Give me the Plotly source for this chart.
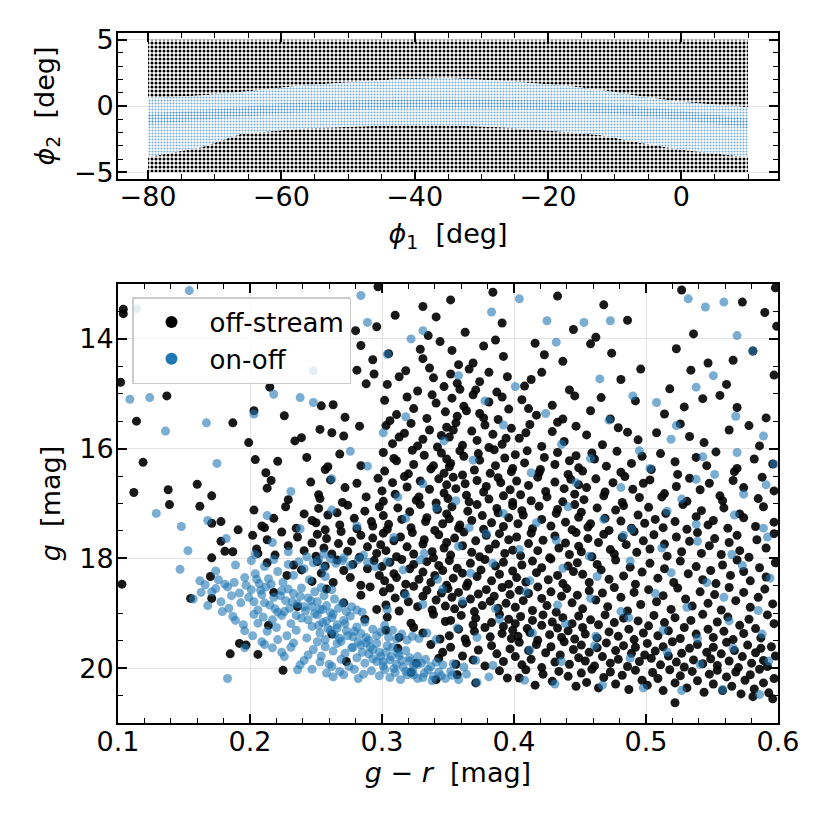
import plotly.graph_objects as go

# ---------------- top panel: sky map (phi1, phi2) ----------------
# edges of the stream mask; outside it = off-stream field
band_phi1 = [-80, -72, -66, -57, -43, -35, -27, -17, -12, -7, 0, 10]
band_upper = [0.6, 0.8, 1.05, 1.55, 2.0, 2.1, 1.9, 1.5, 1.2, 0.8, 0.3, -0.1]
band_lower = [-3.85, -3.1, -2.1, -1.7, -1.45, -1.45, -1.6, -1.95, -2.2, -2.7, -3.3, -3.85]
field_phi2 = [-5, 5]

# denser stream track inside the band
track_phi1 = [-80, -70, -60, -50, -40, -30, -20, -10, 0, 10]
track_upper = [-0.6, -0.25, 0.2, 0.4, 0.5, 0.5, 0.4, 0.15, -0.35, -0.95]
track_lower = [-1.4, -1.0, -0.55, -0.3, -0.2, -0.2, -0.3, -0.6, -1.05, -1.65]

# ---------------- bottom panel: CMD (g-r, g) ----------------
off_stream_stars = [
    # g 13-14
    (0.104, 13.46), (0.297, 13.05), (0.331, 13.41), (0.384, 13.15), (0.352, 13.29),
    (0.433, 13.22), (0.468, 13.38), (0.527, 13.11), (0.573, 13.33), (0.598, 13.07),
    (0.104, 13.54), (0.280, 13.85), (0.296, 13.78), (0.310, 13.57), (0.335, 13.94),
    (0.341, 13.60), (0.363, 13.88), (0.391, 13.71), (0.445, 13.83), (0.486, 13.66),
    (0.462, 13.97), (0.536, 13.91), (0.590, 13.52), (0.599, 13.77),
    # g 14-15
    (0.284, 14.12), (0.293, 14.38), (0.305, 14.27), (0.331, 14.36), (0.344, 14.05),
    (0.329, 14.19), (0.353, 14.21), (0.369, 14.44), (0.377, 14.13), (0.392, 14.32),
    (0.358, 14.47), (0.386, 14.02), (0.416, 14.08), (0.437, 14.41), (0.423, 14.29),
    (0.474, 14.26), (0.458, 14.09), (0.523, 14.18), (0.547, 14.44), (0.566, 14.39),
    (0.581, 14.22),
    (0.102, 14.79), (0.215, 14.88), (0.281, 14.57), (0.288, 14.82), (0.294, 14.64),
    (0.304, 14.83), (0.318, 14.58), (0.327, 14.95), (0.339, 14.71), (0.347, 14.87),
    (0.313, 14.69), (0.336, 14.53), (0.352, 14.64), (0.359, 14.92), (0.366, 14.55),
    (0.374, 14.78), (0.387, 14.97), (0.395, 14.69), (0.381, 14.61), (0.357, 14.81),
    (0.371, 14.93), (0.408, 14.86), (0.421, 14.61), (0.442, 14.93), (0.413, 14.74),
    (0.481, 14.74), (0.496, 14.55), (0.534, 14.57), (0.518, 14.91), (0.561, 14.83),
    (0.597, 14.66),
    # g 15-16
    (0.137, 15.04), (0.226, 15.40), (0.203, 15.31), (0.254, 15.22), (0.263, 15.20),
    (0.272, 15.43), (0.302, 15.12), (0.311, 15.38), (0.319, 15.06), (0.324, 15.27),
    (0.334, 15.45), (0.341, 15.17), (0.348, 15.33), (0.306, 15.49), (0.338, 15.02),
    (0.353, 15.08), (0.357, 15.41), (0.362, 15.23), (0.369, 15.02), (0.374, 15.36),
    (0.381, 15.15), (0.388, 15.47), (0.396, 15.28), (0.364, 15.31), (0.391, 15.06),
    (0.377, 15.44), (0.406, 15.11), (0.417, 15.39), (0.429, 15.21), (0.446, 15.04),
    (0.411, 15.27), (0.437, 15.46), (0.458, 15.31), (0.473, 15.46), (0.492, 15.13),
    (0.466, 15.07), (0.514, 15.37), (0.543, 15.09), (0.529, 15.24), (0.569, 15.25),
    (0.591, 15.44), (0.556, 15.03),
    (0.114, 15.50), (0.187, 15.53), (0.199, 15.89), (0.234, 15.86), (0.239, 15.80),
    (0.253, 15.65), (0.262, 15.71), (0.271, 15.77), (0.283, 15.59), (0.303, 15.58),
    (0.308, 15.91), (0.317, 15.72), (0.322, 15.54), (0.331, 15.83), (0.336, 15.66),
    (0.342, 15.97), (0.349, 15.61), (0.313, 15.79), (0.327, 15.95), (0.345, 15.76),
    (0.351, 15.79), (0.356, 15.53), (0.361, 15.94), (0.368, 15.68), (0.372, 15.85),
    (0.378, 15.57), (0.384, 15.74), (0.391, 15.92), (0.398, 15.63), (0.354, 15.66),
    (0.381, 15.98), (0.394, 15.81), (0.404, 15.81), (0.412, 15.56), (0.421, 15.96),
    (0.429, 15.69), (0.438, 15.87), (0.447, 15.59), (0.409, 15.71), (0.433, 15.52),
    (0.455, 15.75), (0.467, 15.93), (0.479, 15.62), (0.494, 15.84), (0.486, 15.70),
    (0.508, 15.71), (0.526, 15.55), (0.544, 15.89), (0.533, 15.78), (0.563, 15.66),
    (0.586, 15.95), (0.578, 15.58),
    # g 16-17
    (0.119, 16.25), (0.204, 16.20), (0.212, 16.44), (0.221, 16.23), (0.243, 16.16),
    (0.257, 16.38), (0.259, 16.33), (0.268, 16.10), (0.284, 16.31), (0.301, 16.07),
    (0.302, 16.41), (0.309, 16.18), (0.311, 16.22), (0.320, 16.46), (0.323, 16.03),
    (0.324, 16.29), (0.332, 16.12), (0.337, 16.37), (0.339, 16.31), (0.345, 16.08),
    (0.347, 16.45), (0.349, 16.19), (0.351, 16.33), (0.352, 16.27), (0.359, 16.04),
    (0.361, 16.48), (0.362, 16.14), (0.370, 16.39), (0.373, 16.09), (0.374, 16.21),
    (0.382, 16.45), (0.385, 16.02), (0.386, 16.31), (0.393, 16.17), (0.398, 16.42),
    (0.399, 16.36), (0.401, 16.11), (0.408, 16.26), (0.410, 16.04), (0.419, 16.44),
    (0.420, 16.38), (0.423, 16.16), (0.431, 16.29), (0.433, 16.07), (0.441, 16.47),
    (0.442, 16.22), (0.447, 16.13), (0.449, 16.35), (0.452, 16.41), (0.459, 16.08),
    (0.461, 16.19), (0.470, 16.32), (0.478, 16.05), (0.481, 16.43), (0.489, 16.27),
    (0.497, 16.14), (0.504, 16.38), (0.511, 16.09), (0.522, 16.24), (0.524, 16.47),
    (0.538, 16.16), (0.546, 16.31), (0.553, 16.06), (0.567, 16.42), (0.569, 16.36),
    (0.582, 16.19), (0.596, 16.28),
    (0.112, 16.80), (0.138, 16.75), (0.160, 16.65), (0.171, 16.86), (0.213, 16.72),
    (0.216, 16.58), (0.229, 16.93), (0.246, 16.61), (0.252, 16.84), (0.253, 16.91),
    (0.261, 16.57), (0.270, 16.98), (0.272, 16.71), (0.281, 16.63), (0.288, 16.88),
    (0.297, 16.54), (0.300, 16.77), (0.301, 16.96), (0.308, 16.62), (0.310, 16.83),
    (0.317, 16.51), (0.319, 16.70), (0.326, 16.94), (0.328, 16.88), (0.329, 16.59),
    (0.336, 16.74), (0.341, 16.99), (0.343, 16.55), (0.347, 16.81), (0.349, 16.66),
    (0.350, 16.91), (0.354, 16.52), (0.356, 16.73), (0.363, 16.64), (0.364, 16.85),
    (0.366, 16.97), (0.372, 16.58), (0.377, 16.79), (0.379, 16.69), (0.381, 16.92),
    (0.388, 16.53), (0.390, 16.62), (0.392, 16.86), (0.397, 16.75), (0.399, 16.98),
    (0.402, 16.59), (0.405, 16.84), (0.411, 16.67), (0.413, 16.95), (0.418, 16.52),
    (0.424, 16.78), (0.425, 16.88), (0.431, 16.61), (0.437, 16.97), (0.438, 16.73),
    (0.443, 16.56), (0.446, 16.83), (0.449, 16.66), (0.453, 16.93), (0.455, 16.71),
    (0.462, 16.55), (0.468, 16.86), (0.469, 16.79), (0.475, 16.62), (0.482, 16.98),
    (0.484, 16.51), (0.490, 16.74), (0.495, 16.89), (0.498, 16.63), (0.503, 16.57),
    (0.512, 16.88), (0.514, 16.82), (0.523, 16.69), (0.531, 16.96), (0.533, 16.54),
    (0.541, 16.75), (0.548, 16.63), (0.556, 16.86), (0.558, 16.95), (0.566, 16.58),
    (0.574, 16.71), (0.585, 16.91), (0.588, 16.52), (0.597, 16.77),
    # g 17-18
    (0.139, 17.02), (0.162, 17.05), (0.171, 17.36), (0.178, 17.33), (0.191, 17.48),
    (0.203, 17.12), (0.209, 17.41), (0.211, 17.44), (0.218, 17.27), (0.227, 17.06),
    (0.235, 17.45), (0.241, 17.19), (0.247, 17.31), (0.250, 17.35), (0.252, 17.09),
    (0.257, 17.48), (0.259, 17.21), (0.266, 17.17), (0.268, 17.39), (0.274, 17.03),
    (0.279, 17.27), (0.281, 17.46), (0.287, 17.14), (0.292, 17.33), (0.293, 17.41),
    (0.298, 17.06), (0.301, 17.22), (0.304, 17.47), (0.305, 17.38), (0.312, 17.08),
    (0.315, 17.29), (0.321, 17.15), (0.322, 17.44), (0.329, 17.02), (0.333, 17.33),
    (0.334, 17.26), (0.340, 17.49), (0.342, 17.11), (0.346, 17.37), (0.349, 17.19),
    (0.351, 17.28), (0.353, 17.06), (0.358, 17.45), (0.359, 17.39), (0.365, 17.14),
    (0.368, 17.31), (0.372, 17.02), (0.376, 17.22), (0.377, 17.47), (0.383, 17.35),
    (0.387, 17.09), (0.388, 17.17), (0.392, 17.42), (0.396, 17.26), (0.399, 17.04),
    (0.403, 17.37), (0.406, 17.13), (0.407, 17.21), (0.414, 17.46), (0.419, 17.05),
    (0.421, 17.29), (0.428, 17.41), (0.432, 17.18), (0.433, 17.11), (0.439, 17.34),
    (0.444, 17.48), (0.446, 17.02), (0.449, 17.25), (0.451, 17.16), (0.456, 17.43),
    (0.458, 17.37), (0.463, 17.08), (0.469, 17.27), (0.472, 17.49), (0.477, 17.12),
    (0.481, 17.32), (0.483, 17.04), (0.489, 17.45), (0.494, 17.21), (0.499, 17.36),
    (0.502, 17.07), (0.507, 17.29), (0.513, 17.44), (0.515, 17.18), (0.522, 17.33),
    (0.528, 17.02), (0.531, 17.47), (0.538, 17.24), (0.542, 17.13), (0.547, 17.39),
    (0.551, 17.31), (0.559, 17.08), (0.562, 17.45), (0.571, 17.19), (0.574, 17.26),
    (0.583, 17.42), (0.589, 17.06), (0.597, 17.34),
    (0.171, 17.99), (0.178, 17.69), (0.181, 17.87), (0.187, 17.88), (0.202, 17.58),
    (0.205, 17.83), (0.206, 17.91), (0.213, 17.66), (0.219, 17.94), (0.224, 17.52),
    (0.229, 17.77), (0.236, 17.61), (0.241, 17.86), (0.247, 17.72), (0.250, 17.96),
    (0.251, 17.56), (0.256, 17.81), (0.258, 17.64), (0.262, 17.92), (0.267, 17.73),
    (0.269, 17.51), (0.274, 17.87), (0.277, 17.69), (0.283, 17.98), (0.284, 17.58),
    (0.289, 17.79), (0.293, 17.63), (0.296, 17.91), (0.299, 17.75), (0.301, 17.54),
    (0.303, 17.86), (0.309, 17.68), (0.311, 17.97), (0.314, 17.61), (0.319, 17.79),
    (0.323, 17.53), (0.324, 17.92), (0.331, 17.74), (0.332, 17.66), (0.338, 17.88),
    (0.339, 17.99), (0.343, 17.57), (0.347, 17.81), (0.349, 17.71), (0.352, 17.94),
    (0.355, 17.63), (0.361, 17.77), (0.362, 17.52), (0.368, 17.89), (0.371, 17.68),
    (0.374, 17.97), (0.379, 17.58), (0.381, 17.83), (0.386, 17.74), (0.389, 17.55),
    (0.393, 17.91), (0.396, 17.66), (0.399, 17.85), (0.402, 17.61), (0.405, 17.95),
    (0.411, 17.73), (0.413, 17.54), (0.418, 17.86), (0.422, 17.67), (0.427, 17.99),
    (0.431, 17.59), (0.434, 17.81), (0.439, 17.72), (0.442, 17.93), (0.447, 17.53),
    (0.449, 17.78), (0.451, 17.88), (0.456, 17.64), (0.459, 17.97), (0.464, 17.71),
    (0.468, 17.56), (0.473, 17.84), (0.476, 17.92), (0.482, 17.62), (0.485, 17.75),
    (0.491, 17.51), (0.493, 17.89), (0.498, 17.68), (0.503, 17.83), (0.506, 17.57),
    (0.514, 17.74), (0.516, 17.96), (0.523, 17.61), (0.527, 17.88), (0.533, 17.69),
    (0.539, 17.53), (0.542, 17.91), (0.548, 17.77), (0.552, 17.64), (0.557, 17.93),
    (0.563, 17.71), (0.569, 17.58), (0.571, 17.86), (0.578, 17.98), (0.584, 17.66),
    (0.591, 17.81), (0.597, 17.55),
    # g 18-19
    (0.103, 18.47), (0.170, 18.33), (0.213, 18.08), (0.228, 18.31), (0.233, 18.12),
    (0.239, 18.21), (0.247, 18.42), (0.251, 18.06), (0.254, 18.27), (0.257, 18.14),
    (0.263, 18.44), (0.266, 18.03), (0.271, 18.22), (0.276, 18.35), (0.278, 18.11),
    (0.284, 18.49), (0.289, 18.19), (0.294, 18.04), (0.298, 18.31), (0.300, 18.15),
    (0.302, 18.41), (0.306, 18.07), (0.309, 18.28), (0.311, 18.35), (0.315, 18.02),
    (0.318, 18.47), (0.321, 18.19), (0.324, 18.11), (0.328, 18.38), (0.331, 18.25),
    (0.334, 18.06), (0.337, 18.44), (0.340, 18.31), (0.343, 18.13), (0.346, 18.22),
    (0.349, 18.49), (0.351, 18.04), (0.354, 18.36), (0.357, 18.18), (0.361, 18.27),
    (0.365, 18.45), (0.367, 18.09), (0.372, 18.33), (0.375, 18.21), (0.378, 18.02),
    (0.383, 18.41), (0.386, 18.14), (0.389, 18.29), (0.392, 18.07), (0.396, 18.47),
    (0.399, 18.23), (0.402, 18.35), (0.406, 18.12), (0.409, 18.43), (0.414, 18.05),
    (0.417, 18.26), (0.421, 18.17), (0.426, 18.39), (0.428, 18.01), (0.433, 18.31),
    (0.437, 18.46), (0.441, 18.14), (0.445, 18.24), (0.448, 18.08), (0.452, 18.29),
    (0.457, 18.44), (0.463, 18.11), (0.466, 18.21), (0.472, 18.38), (0.477, 18.03),
    (0.483, 18.32), (0.488, 18.16), (0.492, 18.47), (0.497, 18.25), (0.503, 18.09),
    (0.509, 18.36), (0.514, 18.19), (0.521, 18.44), (0.526, 18.05), (0.532, 18.28),
    (0.538, 18.15), (0.543, 18.39), (0.549, 18.22), (0.553, 18.46), (0.558, 18.12),
    (0.564, 18.31), (0.569, 18.03), (0.574, 18.24), (0.579, 18.41), (0.586, 18.17),
    (0.591, 18.34), (0.598, 18.08),
    (0.155, 18.73), (0.171, 18.73), (0.218, 18.62), (0.236, 18.88), (0.258, 18.56),
    (0.271, 18.81), (0.284, 18.67), (0.291, 18.52), (0.296, 18.93), (0.301, 18.61),
    (0.303, 18.85), (0.306, 18.54), (0.310, 18.72), (0.313, 18.96), (0.317, 18.64),
    (0.320, 18.79), (0.324, 18.51), (0.327, 18.88), (0.331, 18.69), (0.334, 18.58),
    (0.338, 18.94), (0.341, 18.76), (0.345, 18.63), (0.348, 18.87), (0.350, 18.55),
    (0.353, 18.71), (0.355, 18.92), (0.358, 18.62), (0.361, 18.83), (0.364, 18.51),
    (0.367, 18.74), (0.370, 18.97), (0.373, 18.65), (0.376, 18.86), (0.379, 18.57),
    (0.382, 18.78), (0.385, 18.69), (0.388, 18.91), (0.391, 18.53), (0.394, 18.82),
    (0.397, 18.66), (0.401, 18.89), (0.404, 18.58), (0.407, 18.77), (0.411, 18.64),
    (0.414, 18.95), (0.418, 18.52), (0.421, 18.73), (0.425, 18.86), (0.428, 18.61),
    (0.432, 18.98), (0.436, 18.69), (0.440, 18.55), (0.444, 18.81), (0.448, 18.67),
    (0.452, 18.92), (0.457, 18.59), (0.462, 18.76), (0.467, 18.63), (0.471, 18.88),
    (0.476, 18.53), (0.481, 18.71), (0.486, 18.96), (0.491, 18.62), (0.496, 18.84),
    (0.502, 18.57), (0.508, 18.79), (0.513, 18.68), (0.519, 18.93), (0.524, 18.54),
    (0.530, 18.74), (0.535, 18.87), (0.541, 18.61), (0.547, 18.82), (0.552, 18.66),
    (0.557, 18.94), (0.563, 18.53), (0.568, 18.77), (0.574, 18.62), (0.579, 18.89),
    (0.585, 18.71), (0.590, 18.56), (0.596, 18.83),
    # g 19-20
    (0.214, 19.22), (0.262, 19.38), (0.287, 19.11), (0.303, 19.31), (0.304, 19.07),
    (0.313, 19.44), (0.322, 19.18), (0.324, 19.26), (0.331, 19.36), (0.339, 19.02),
    (0.344, 19.47), (0.348, 19.15), (0.351, 19.41), (0.352, 19.13), (0.358, 19.29),
    (0.360, 19.04), (0.363, 19.47), (0.369, 19.21), (0.370, 19.33), (0.371, 19.09),
    (0.378, 19.26), (0.382, 19.43), (0.383, 19.17), (0.389, 19.02), (0.391, 19.37),
    (0.392, 19.24), (0.396, 19.11), (0.398, 19.46), (0.399, 19.31), (0.401, 19.19),
    (0.403, 19.42), (0.405, 19.06), (0.410, 19.28), (0.412, 19.35), (0.414, 19.13),
    (0.418, 19.49), (0.421, 19.22), (0.422, 19.03), (0.427, 19.39), (0.429, 19.16),
    (0.433, 19.27), (0.436, 19.44), (0.437, 19.08), (0.441, 19.32), (0.444, 19.19),
    (0.446, 19.47), (0.449, 19.05), (0.452, 19.26), (0.454, 19.38), (0.458, 19.12),
    (0.463, 19.45), (0.464, 19.21), (0.469, 19.03), (0.472, 19.34), (0.476, 19.17),
    (0.479, 19.42), (0.483, 19.09), (0.487, 19.29), (0.491, 19.48), (0.494, 19.14),
    (0.498, 19.36), (0.502, 19.23), (0.506, 19.04), (0.509, 19.41), (0.514, 19.17),
    (0.517, 19.32), (0.522, 19.08), (0.526, 19.46), (0.529, 19.26), (0.534, 19.13),
    (0.538, 19.38), (0.543, 19.02), (0.547, 19.29), (0.551, 19.44), (0.554, 19.16),
    (0.559, 19.33), (0.562, 19.07), (0.566, 19.48), (0.571, 19.22), (0.574, 19.37),
    (0.578, 19.11), (0.583, 19.28), (0.587, 19.45), (0.592, 19.03), (0.597, 19.19),
    (0.185, 19.74), (0.192, 19.55), (0.197, 19.58), (0.206, 19.75), (0.273, 19.88),
    (0.312, 19.64), (0.326, 19.91), (0.337, 19.57), (0.343, 19.82), (0.346, 19.71),
    (0.352, 19.62), (0.356, 19.93), (0.361, 19.78), (0.364, 19.54), (0.369, 19.85),
    (0.373, 19.67), (0.378, 19.96), (0.383, 19.59), (0.387, 19.74), (0.392, 19.88),
    (0.397, 19.65), (0.401, 19.79), (0.404, 19.53), (0.406, 19.94), (0.411, 19.68),
    (0.413, 19.84), (0.417, 19.57), (0.421, 19.99), (0.424, 19.72), (0.428, 19.61),
    (0.431, 19.89), (0.435, 19.76), (0.438, 19.52), (0.442, 19.93), (0.445, 19.66),
    (0.449, 19.81), (0.451, 19.58), (0.454, 19.87), (0.457, 19.71), (0.461, 19.96),
    (0.463, 19.63), (0.467, 19.79), (0.470, 19.54), (0.473, 19.91), (0.477, 19.68),
    (0.479, 19.84), (0.483, 19.59), (0.486, 19.97), (0.489, 19.73), (0.492, 19.62),
    (0.495, 19.88), (0.499, 19.76), (0.501, 19.55), (0.504, 19.82), (0.507, 19.69),
    (0.511, 19.94), (0.513, 19.61), (0.517, 19.78), (0.520, 19.52), (0.523, 19.89),
    (0.527, 19.73), (0.529, 19.98), (0.533, 19.64), (0.536, 19.85), (0.539, 19.57),
    (0.543, 19.92), (0.546, 19.71), (0.549, 19.83), (0.551, 19.62), (0.554, 19.95),
    (0.557, 19.74), (0.561, 19.53), (0.563, 19.87), (0.567, 19.68), (0.570, 19.99),
    (0.573, 19.79), (0.577, 19.58), (0.580, 19.91), (0.583, 19.72), (0.587, 19.64),
    (0.589, 19.86), (0.592, 19.97), (0.595, 19.61), (0.598, 19.78),
    # g 20-21
    (0.225, 20.04), (0.322, 20.08), (0.341, 20.21), (0.357, 20.12), (0.371, 20.27),
    (0.389, 20.05), (0.395, 20.18), (0.404, 20.18), (0.409, 20.03), (0.416, 20.31),
    (0.422, 20.11), (0.429, 20.24), (0.434, 20.06), (0.441, 20.15), (0.447, 20.33),
    (0.451, 20.09), (0.455, 20.26), (0.459, 20.02), (0.464, 20.36), (0.468, 20.17),
    (0.473, 20.07), (0.477, 20.29), (0.482, 20.13), (0.487, 20.39), (0.492, 20.04),
    (0.497, 20.22), (0.501, 20.31), (0.505, 20.08), (0.509, 20.19), (0.513, 20.41),
    (0.518, 20.03), (0.522, 20.27), (0.526, 20.14), (0.531, 20.36), (0.535, 20.06),
    (0.539, 20.23), (0.544, 20.44), (0.548, 20.11), (0.551, 20.29), (0.554, 20.04),
    (0.558, 20.41), (0.561, 20.16), (0.565, 20.33), (0.568, 20.07), (0.572, 20.47),
    (0.575, 20.22), (0.579, 20.12), (0.582, 20.38), (0.586, 20.02), (0.589, 20.27),
    (0.593, 20.45), (0.597, 20.19), (0.522, 20.63), (0.581, 20.52), (0.596, 20.56),
]

on_off_stars = [
    # sparse, upper part of the diagram
    (0.136, 15.68), (0.109, 15.10), (0.124, 15.07), (0.154, 13.12), (0.167, 15.53),
    (0.175, 16.27), (0.203, 15.37), (0.218, 15.01), (0.238, 15.07), (0.248, 15.16),
    (0.289, 13.70), (0.284, 13.21), (0.322, 14.00), (0.331, 13.85), (0.304, 14.28),
    (0.248, 14.58), (0.114, 13.45), (0.262, 16.55), (0.231, 16.78), (0.148, 17.42),
    (0.129, 17.18), (0.147, 18.20), (0.383, 13.51), (0.404, 13.27), (0.425, 13.67),
    (0.453, 13.70), (0.473, 13.67), (0.532, 13.27), (0.545, 13.42), (0.559, 13.33),
    (0.569, 13.94), (0.581, 14.22), (0.551, 14.67), (0.538, 14.88), (0.508, 15.16),
    (0.490, 15.04), (0.465, 14.73), (0.432, 14.06), (0.523, 15.58), (0.569, 16.07),
    (0.589, 15.77), (0.538, 16.56),
    (0.318, 15.42), (0.347, 15.86), (0.369, 16.21), (0.392, 15.57), (0.413, 16.44),
    (0.436, 15.92), (0.458, 16.18), (0.481, 16.71), (0.503, 16.36), (0.527, 16.92),
    (0.552, 16.47), (0.574, 16.83), (0.597, 16.28), (0.331, 16.64), (0.356, 16.95),
    (0.378, 15.13), (0.401, 14.87), (0.424, 15.36), (0.447, 16.62), (0.472, 15.48),
    (0.495, 16.04), (0.519, 15.83), (0.543, 16.15), (0.568, 15.41), (0.591, 16.66),
    (0.312, 16.88), (0.289, 16.32), (0.276, 16.05), (0.301, 15.71), (0.358, 14.67),
    # g 17-18
    (0.168, 17.31), (0.213, 17.22), (0.238, 17.46), (0.262, 17.12), (0.281, 17.41),
    (0.318, 17.27), (0.341, 17.08), (0.366, 17.44), (0.392, 17.18), (0.417, 17.35),
    (0.441, 17.06), (0.468, 17.29), (0.489, 17.47), (0.516, 17.14), (0.538, 17.38),
    (0.567, 17.21), (0.589, 17.45),
    (0.153, 17.86), (0.182, 17.64), (0.204, 17.93), (0.217, 17.71), (0.229, 17.88),
    (0.243, 17.97), (0.256, 17.92), (0.271, 17.99), (0.286, 17.94), (0.309, 17.62),
    (0.332, 17.91), (0.358, 17.78), (0.379, 17.55), (0.404, 17.84), (0.432, 17.67),
    (0.457, 17.96), (0.483, 17.58), (0.512, 17.81), (0.539, 17.69), (0.565, 17.93),
    (0.592, 17.61),
    # g 18-19, upper stream main sequence
    (0.162, 18.41), (0.174, 18.23), (0.181, 18.47), (0.189, 18.12), (0.196, 18.35),
    (0.201, 18.04), (0.204, 18.28), (0.207, 18.46), (0.211, 18.15), (0.214, 18.37),
    (0.218, 18.02), (0.221, 18.24), (0.225, 18.44), (0.229, 18.11), (0.233, 18.31),
    (0.237, 18.06), (0.241, 18.19), (0.245, 18.39), (0.248, 18.08), (0.252, 18.03),
    (0.256, 18.17), (0.261, 18.01), (0.265, 18.09), (0.270, 18.04), (0.276, 18.13),
    (0.282, 18.02), (0.289, 18.07), (0.295, 18.15), (0.257, 18.33), (0.304, 18.06),
    (0.316, 18.21), (0.329, 18.03), (0.342, 18.38), (0.367, 18.27), (0.384, 18.09),
    (0.412, 18.41), (0.437, 18.18), (0.463, 18.33), (0.488, 18.05), (0.519, 18.26),
    (0.546, 18.44), (0.573, 18.13), (0.594, 18.36),
    (0.157, 18.74), (0.163, 18.62), (0.168, 18.86), (0.174, 18.55), (0.179, 18.97),
    (0.186, 18.68), (0.193, 18.81), (0.201, 18.57), (0.203, 18.79), (0.206, 18.94),
    (0.209, 18.66), (0.212, 18.52), (0.215, 18.85), (0.218, 18.71), (0.221, 18.98),
    (0.224, 18.59), (0.227, 18.77), (0.230, 18.91), (0.233, 18.64), (0.236, 18.83),
    (0.239, 18.54), (0.242, 18.96), (0.244, 18.72), (0.247, 18.88), (0.249, 18.61),
    (0.251, 18.79), (0.253, 18.93), (0.256, 18.68), (0.258, 18.86), (0.261, 18.99),
    (0.264, 18.74), (0.267, 18.91), (0.270, 18.82), (0.273, 18.97), (0.277, 18.88),
    (0.281, 18.94), (0.285, 18.98), (0.262, 18.57), (0.254, 18.53), (0.304, 18.93),
    (0.318, 18.67), (0.331, 18.84), (0.346, 18.56), (0.361, 18.78), (0.386, 18.92),
    (0.409, 18.61), (0.433, 18.85), (0.458, 18.73), (0.481, 18.97), (0.507, 18.64),
    (0.531, 18.89), (0.559, 18.71), (0.585, 18.95),
    (0.183, 18.52), (0.188, 18.44), (0.192, 18.63), (0.197, 18.49), (0.199, 18.71),
    (0.205, 18.38), (0.208, 18.58), (0.211, 18.81), (0.216, 18.47), (0.219, 18.92),
    (0.223, 18.68), (0.226, 18.97), (0.229, 18.56), (0.232, 18.79), (0.238, 18.69),
    (0.241, 18.88), (0.246, 18.77), (0.255, 18.93), (0.176, 18.39), (0.171, 18.61),
    (0.166, 18.48), (0.178, 18.79), (0.184, 18.91),
    # g 19-20, lower stream main sequence
    (0.187, 19.06), (0.195, 19.21), (0.203, 19.02), (0.206, 19.18), (0.210, 19.07),
    (0.213, 19.33), (0.217, 19.12), (0.220, 19.26), (0.224, 19.04), (0.228, 19.41),
    (0.231, 19.19), (0.235, 19.31), (0.239, 19.09), (0.243, 19.45), (0.247, 19.24),
    (0.251, 19.03), (0.253, 19.36), (0.255, 19.17), (0.257, 19.48), (0.259, 19.28),
    (0.262, 19.08), (0.264, 19.39), (0.266, 19.21), (0.268, 19.46), (0.271, 19.13),
    (0.273, 19.32), (0.276, 19.05), (0.278, 19.43), (0.281, 19.25), (0.284, 19.37),
    (0.287, 19.16), (0.290, 19.49), (0.293, 19.29), (0.296, 19.41), (0.299, 19.34),
    (0.302, 19.22), (0.305, 19.44), (0.308, 19.31), (0.311, 19.47), (0.315, 19.38),
    (0.319, 19.49), (0.323, 19.42), (0.328, 19.46), (0.334, 19.36), (0.341, 19.48),
    (0.357, 19.27), (0.372, 19.44), (0.389, 19.11), (0.414, 19.36), (0.439, 19.19),
    (0.462, 19.42), (0.487, 19.08), (0.513, 19.31), (0.539, 19.46), (0.563, 19.14),
    (0.588, 19.38),
    (0.235, 19.04), (0.244, 19.12), (0.249, 19.01), (0.252, 19.22), (0.258, 19.14),
    (0.261, 19.31), (0.263, 19.02), (0.266, 19.27), (0.272, 19.19), (0.274, 19.41),
    (0.279, 19.33), (0.288, 19.44), (0.189, 19.13), (0.196, 19.32), (0.202, 19.41),
    (0.221, 19.48),
    (0.196, 19.63), (0.211, 19.57), (0.224, 19.71), (0.233, 19.54), (0.241, 19.86),
    (0.248, 19.66), (0.251, 19.52), (0.254, 19.78), (0.257, 19.61), (0.260, 19.93),
    (0.263, 19.69), (0.266, 19.55), (0.269, 19.84), (0.272, 19.73), (0.275, 19.97),
    (0.278, 19.62), (0.281, 19.81), (0.284, 19.58), (0.287, 19.91), (0.290, 19.74),
    (0.293, 19.66), (0.296, 19.88), (0.299, 19.79), (0.301, 19.96), (0.303, 19.71),
    (0.306, 19.85), (0.308, 19.62), (0.311, 19.93), (0.313, 19.77), (0.316, 19.98),
    (0.318, 19.68), (0.321, 19.87), (0.324, 19.95), (0.327, 19.79), (0.330, 19.91),
    (0.333, 19.84), (0.337, 19.97), (0.341, 19.89), (0.346, 19.94), (0.354, 19.92),
    (0.362, 19.98), (0.371, 19.86), (0.384, 19.95), (0.412, 19.67), (0.436, 19.88),
    (0.461, 19.59), (0.488, 19.82), (0.516, 19.71), (0.541, 19.93), (0.566, 19.64),
    (0.593, 19.87),
    (0.269, 19.51), (0.277, 19.63), (0.282, 19.52), (0.285, 19.71), (0.288, 19.54),
    (0.291, 19.62), (0.293, 19.83), (0.296, 19.55), (0.298, 19.71), (0.301, 19.88),
    (0.304, 19.59), (0.307, 19.79), (0.312, 19.72), (0.315, 19.86), (0.321, 19.81),
    (0.327, 19.93), (0.209, 19.52), (0.217, 19.63), (0.226, 19.79), (0.238, 19.94),
    (0.231, 19.62), (0.244, 19.76), (0.253, 19.89), (0.262, 19.97),
    # g 20-21
    (0.236, 20.03), (0.268, 20.06), (0.279, 20.02), (0.286, 20.11), (0.292, 20.05),
    (0.298, 20.14), (0.302, 20.03), (0.306, 20.17), (0.310, 20.08), (0.314, 20.21),
    (0.319, 20.12), (0.323, 20.04), (0.327, 20.19), (0.332, 20.09), (0.338, 20.23),
    (0.345, 20.14), (0.352, 20.06), (0.358, 20.21), (0.364, 20.11), (0.372, 20.26),
    (0.381, 20.16), (0.408, 20.22), (0.431, 20.29), (0.467, 20.31), (0.498, 20.36),
    (0.527, 20.41), (0.558, 20.39), (0.586, 20.48), (0.183, 20.19),
    (0.309, 20.01), (0.318, 20.06), (0.324, 20.12), (0.331, 20.17), (0.335, 20.03),
    (0.339, 20.15), (0.343, 20.07), (0.348, 20.19), (0.353, 20.13), (0.247, 20.02),
    (0.258, 20.09), (0.263, 20.16), (0.271, 20.12), (0.282, 20.19),
]

off_gr = [s[0] for s in off_stream_stars]
off_g = [s[1] for s in off_stream_stars]
on_gr = [s[0] for s in on_off_stars]
on_g = [s[1] for s in on_off_stars]

BLUE = "#1f77b4"
FONT = "DejaVu Sans"

# the page puts the figure 8 px in from the top-left corner
W = 822
OFF = 8


def px_x(p):
    return (p - OFF) / W


def px_y(p):
    return 1 - (p - OFF) / W


fig = go.Figure()

# --- top panel: off-stream field above and below the stream band
back = band_phi1[::-1]
n = len(band_phi1)
field_pattern = dict(shape=".", fgcolor="black", fgopacity=1.0, bgcolor="white",
                     size=4, solidity=0.45)
for edge, lim in [(band_upper, field_phi2[1]), (band_lower, field_phi2[0])]:
    fig.add_trace(go.Scatter(
        x=band_phi1 + back, y=edge + [lim] * n,
        fill="toself", mode="none", fillcolor="white", fillpattern=field_pattern,
        showlegend=False, hoverinfo="skip", xaxis="x", yaxis="y"))
# stream band
fig.add_trace(go.Scatter(
    x=band_phi1 + back, y=band_upper + band_lower[::-1],
    fill="toself", mode="none", fillcolor="white",
    fillpattern=dict(shape=".", fgcolor=BLUE, fgopacity=0.6, bgcolor="white",
                     size=3, solidity=0.4),
    showlegend=False, hoverinfo="skip", xaxis="x", yaxis="y"))
fig.add_trace(go.Scatter(
    x=track_phi1 + track_phi1[::-1], y=track_upper + track_lower[::-1],
    fill="toself", mode="none", fillcolor="rgba(0,0,0,0)",
    fillpattern=dict(shape=".", fgcolor=BLUE, fgopacity=0.55,
                     bgcolor="rgba(0,0,0,0)", size=3, solidity=0.3),
    showlegend=False, hoverinfo="skip", xaxis="x", yaxis="y"))

# --- bottom panel: CMD
fig.add_trace(go.Scatter(
    x=off_gr, y=off_g, mode="markers", name="off-stream", showlegend=False,
    marker=dict(color="black", size=9, opacity=0.9, line=dict(width=0)),
    xaxis="x2", yaxis="y2"))
fig.add_trace(go.Scatter(
    x=on_gr, y=on_g, mode="markers", name="on-off", showlegend=False,
    marker=dict(color=BLUE, size=9, opacity=0.6, line=dict(width=0)),
    xaxis="x2", yaxis="y2"))
# legend entries (solid markers, as in the original legend)
fig.add_trace(go.Scatter(x=[None], y=[None], mode="markers", name="off-stream",
                         marker=dict(color="black", size=12), xaxis="x2", yaxis="y2"))
fig.add_trace(go.Scatter(x=[None], y=[None], mode="markers", name="on-off",
                         marker=dict(color=BLUE, size=12), xaxis="x2", yaxis="y2"))

axis_common = dict(
    showline=True, linecolor="black", linewidth=1.8, mirror="allticks",
    ticks="inside", ticklen=9, tickwidth=1.6, tickcolor="black",
    showgrid=True, gridcolor="#e3e3e3", gridwidth=1.2, zeroline=False,
    automargin=False, layer="above traces",
    tickfont=dict(family=FONT, size=27, color="black"),
)


def minor(step):
    return dict(ticks="inside", ticklen=5, tickwidth=1.3, tickcolor="black",
                dtick=step, showgrid=False)


x_dom = [px_x(118), px_x(778)]

fig.update_layout(
    width=W, height=W,
    margin=dict(l=0, r=0, t=0, b=0),
    paper_bgcolor="white", plot_bgcolor="white",
    font=dict(family=FONT, size=27, color="black"),
    xaxis=dict(axis_common, domain=x_dom, anchor="y", range=[-84.5, 14.5],
               tick0=0, dtick=20, minor=minor(5), ticklabelstandoff=-7,
               title=dict(text="<i>ϕ</i><sub>1</sub>\u00a0\u00a0[deg]", standoff=13,
                          font=dict(family=FONT, size=27))),
    yaxis=dict(axis_common, domain=[px_y(179), px_y(33)], anchor="x",
               range=[-5.5, 5.5], tick0=0, dtick=5, minor=minor(1), ticklabelstandoff=-3,
               title=dict(text="<i>ϕ</i><sub>2</sub>\u00a0\u00a0[deg]", standoff=11,
                          font=dict(family=FONT, size=27))),
    xaxis2=dict(axis_common, domain=x_dom, anchor="y2", range=[0.1, 0.6],
                tick0=0.1, dtick=0.1, tickformat=".1f", minor=minor(0.02),
                ticklabelstandoff=-6,
                title=dict(text="<i>g</i> − <i>r</i>\u00a0\u00a0[mag]", standoff=0,
                           font=dict(family=FONT, size=27))),
    yaxis2=dict(axis_common, domain=[px_y(723), px_y(284)], anchor="x2",
                range=[21, 13], tick0=14, dtick=2, minor=minor(0.5), ticklabelstandoff=-3,
                title=dict(text="<i>g</i>\u00a0\u00a0[mag]", standoff=11,
                           font=dict(family=FONT, size=27))),
    legend=dict(x=px_x(132), y=px_y(297), xanchor="left", yanchor="top",
                bgcolor="rgba(255,255,255,0.8)", bordercolor="#cccccc", borderwidth=1.5,
                font=dict(family=FONT, size=26, color="black"), itemwidth=66),
)

fig.write_html("out.html")
